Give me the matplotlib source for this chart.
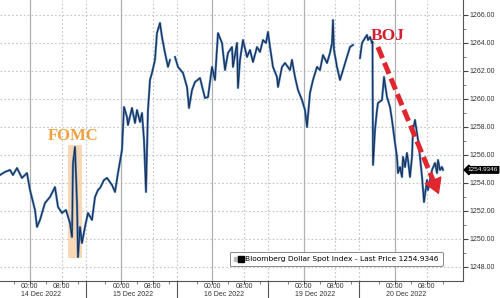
import matplotlib
matplotlib.use("Agg")
import matplotlib.pyplot as plt
import matplotlib.transforms as mtransforms
from matplotlib.patches import Rectangle
from matplotlib.lines import Line2D
from matplotlib.legend_handler import HandlerTuple
import numpy as np

# Compressed trading-time axis: hours from 14 Dec 00:00, each session = 23 h
day_labels = ["14 Dec 2022", "15 Dec 2022", "16 Dec 2022", "19 Dec 2022", "20 Dec 2022"]
day_midnight = [0, 23, 46, 69, 92]
day_breaks = [14, 37, 60, 83]

hours = [-7.56, -6.3, -5.04, -4.29, -3.28, -2.02, -0.76, 0.0, 1.26, 1.76, 2.52, 3.78, 5.04, 6.3,
         7.06, 8.07, 9.07, 10.08, 10.59, 10.84, 11.34, 11.85, 12.1, 12.6, 13.11, 13.86, 14.62,
         15.63, 16.39, 17.14, 17.65, 18.65, 19.41, 20.67, 21.43, 22.18, 23.19, 23.7, 24.45, 24.7,
         25.71, 26.47, 26.97, 27.73, 28.23, 28.74, 29.24, 29.74, 30.25, 30.75, 31.51, 32.01,
         32.77, 33.27, 34.03, 34.79, 35.29, 35.9,
         36.55, 37.31, 38.57, 39.58, 40.08, 40.84, 41.59, 42.85, 44.11, 44.87, 45.88, 46.63,
         47.39, 48.4, 49.16, 49.91, 50.92, 51.17, 52.18, 52.43, 52.94, 53.69, 54.7, 55.46, 56.21,
         57.22, 57.98, 58.73, 59.49, 59.99, 60.5, 61.25, 62.26, 62.52, 63.52, 64.28, 65.54, 66.04,
         66.8, 67.56, 68.56, 69.32, 69.83, 70.58, 71.34, 72.35, 73.1, 73.86, 74.87, 75.62, 76.13,
         76.38, 76.63, 77.39, 78.14, 78.9, 79.91, 80.66, 81.42, 82.3,
         83.19, 83.69, 84.45, 84.95, 85.2, 85.71, 86.21, 86.34, 86.46, 86.97, 87.47, 87.72, 88.73,
         89.24, 89.99, 90.75, 91.25, 92.01, 92.51, 92.76, 93.27, 93.77, 94.03, 94.53, 95.03, 95.29,
         95.79, 96.29, 96.55, 97.05, 97.56, 97.81, 98.31, 98.82, 99.07, 99.32, 100.08, 100.33,
         101.34, 102.09, 102.6, 102.85, 103.35, 103.86, 104.11]
price = [1254.57, 1254.79, 1254.93, 1254.57, 1255.07, 1254.36, 1254.71, 1253.5, 1252.07, 1250.86,
         1251.36, 1252.57, 1253.0, 1253.71, 1252.29, 1251.86, 1252.07, 1251.14, 1250.14, 1255.43,
         1256.57, 1252.57, 1248.71, 1250.86, 1249.71, 1250.86, 1251.86, 1251.36, 1253.0, 1253.5,
         1253.64, 1254.21, 1254.36, 1253.86, 1253.36, 1254.71, 1256.36, 1259.43, 1258.71, 1258.14,
         1259.36, 1258.29, 1259.21, 1258.36, 1259.0, 1257.07, 1253.36, 1259.21, 1261.36, 1261.86,
         1262.79, 1264.71, 1265.43, 1264.43, 1263.29, 1262.29, 1262.79, np.nan,
         1263.0, 1262.29, 1261.86, 1260.86, 1259.36, 1260.64, 1261.21, 1261.5, 1260.07, 1260.14,
         1262.29, 1261.36, 1264.71, 1264.0, 1262.07, 1263.29, 1263.71, 1262.29, 1264.0, 1260.79,
         1262.79, 1264.21, 1263.0, 1263.5, 1262.64, 1263.71, 1263.36, 1264.21, 1264.0, 1264.79,
         1263.71, 1262.29, 1261.57, 1260.86, 1262.29, 1262.57, 1262.07, 1262.79, 1261.57, 1260.64,
         1259.93, 1259.21, 1258.0, 1260.43, 1261.36, 1262.29, 1262.07, 1263.14, 1262.57, 1263.29,
         1264.0, 1265.64, 1263.5, 1262.29, 1261.36, 1262.07, 1263.0, 1263.71, 1263.86, np.nan,
         1262.93, 1264.0, 1264.36, 1264.57, 1264.21, 1264.43, 1264.0, 1264.1, 1255.29, 1257.79,
         1259.21, 1259.71, 1259.93, 1261.57, 1260.14, 1259.43, 1258.5, 1256.86, 1255.86, 1254.71,
         1255.14, 1254.43, 1255.86, 1255.14, 1256.14, 1255.64, 1254.43, 1255.86, 1257.79, 1258.5,
         1257.57, 1257.07, 1255.86, 1254.43, 1253.5, 1252.64, 1254.21, 1253.5, 1254.93, 1255.43,
         1254.71, 1255.64, 1254.93, 1255.14, 1254.9346]
last_price = 1254.9346
y_ticks = [1248, 1250, 1252, 1254, 1256, 1258, 1260, 1262, 1264, 1266]

fig = plt.figure(figsize=(5, 2.98), dpi=100)
ax = fig.add_axes([0, 17 / 298, 463 / 500, 281 / 298])
ax.set_xlim(-7.56, 109.15)
ax.set_ylim(1247.0, 1267.07)

tick_font = dict(family="Liberation Sans", size=5)
grid_col = "#c4c4c4"

# grids
for y in y_ticks:
    ax.axhline(y, color=grid_col, ls=(0, (1.5, 2)), lw=0.8, zorder=0)
for m in day_midnight:
    ax.axvline(m, color="#b0b0b0", lw=0.9, zorder=0)
    ax.axvline(m + 8, color=grid_col, ls=(0, (1.5, 2)), lw=0.8, zorder=0)
for b in day_breaks:
    ax.axvline(b, color=grid_col, ls=(0, (1.5, 2)), lw=0.8, zorder=0)

# FOMC shaded box
ax.add_patch(Rectangle((9.58, 1248.64), 13.1 - 9.58, 1256.71 - 1248.64,
                       facecolor="#f7cfa2", alpha=0.8, edgecolor="none", zorder=1))

# series
ax.plot(hours, price, color="#3d74bd", lw=1.6, zorder=3)
ax.plot(hours, price, color="#111111", lw=0.55, alpha=0.85, zorder=4)

# annotations
ax.text(10.84, 1257.36, "FOMC", color="#f0a040", fontsize=12, fontweight="bold",
        family="Liberation Serif", ha="center", va="center", zorder=5)
red = "#e0262e"
ax.text(90.24, 1264.5, "BOJ", color="#d22030", fontsize=12.5, fontweight="bold",
        family="Liberation Serif", ha="center", va="center", zorder=5)
ax.plot([87.7, 101.9], [1263.71, 1254.0], color=red, lw=3.6, ls=(0, (2.4, 1.0)),
        solid_capstyle="butt", dash_capstyle="butt", zorder=6)
ax.annotate("", xy=(103.35, 1253.0), xytext=(101.6, 1254.2),
            arrowprops=dict(arrowstyle="-|>,head_length=1.0,head_width=0.6",
                            fc=red, ec=red, lw=1, mutation_scale=10), zorder=6)

# axes styling
for s in ["left", "top"]:
    ax.spines[s].set_visible(False)
for s in ["right", "bottom"]:
    ax.spines[s].set_color("#555555")
    ax.spines[s].set_linewidth(0.8)

ax.yaxis.tick_right()
ax.set_yticks(y_ticks)
ax.set_yticklabels([f"{v:.2f}" for v in y_ticks], **tick_font, color="#333333")
ax.set_yticks([v + 1 for v in y_ticks[:-1]], minor=True)
ax.tick_params(axis="y", which="major", length=3.6, width=0.8, color="#444444", pad=1)
ax.tick_params(axis="y", which="minor", length=2, width=0.6, color="#666666")

xt = []
xl = []
for m in day_midnight:
    xt += [m, m + 8]
    xl += ["00:00", "08:00"]
ax.set_xticks(xt)
ax.set_xticklabels(xl, **tick_font, color="#333333")
minor_x = []
for m in day_midnight:
    minor_x += [m - 4, m + 4, m + 12]
ax.set_xticks([v for v in minor_x if -7.5 < v < 109], minor=True)
ax.tick_params(axis="x", which="major", length=2.0, width=0.7, color="#444444", pad=-0.3)
ax.tick_params(axis="x", which="minor", length=1.8, width=0.6, color="#666666")

trans = mtransforms.blended_transform_factory(ax.transData, ax.transAxes)
for m, lab in zip(day_midnight, day_labels):
    ax.text(m - 2.15, -0.049, lab, transform=trans, ha="left", va="center",
            **tick_font, color="#333333")
for b in day_breaks:
    ax.plot([b, b], [0, -0.07], transform=trans, color="#555555", lw=0.8, clip_on=False)

# last price tag
ytrans = mtransforms.blended_transform_factory(ax.transAxes, ax.transData)
ax.text(1.01, last_price, "1254.9346", transform=ytrans, ha="left", va="center",
        family="Liberation Sans", size=4.6, color="white",
        bbox=dict(boxstyle="larrow,pad=0.12", fc="black", ec="black"), clip_on=False)

# legend
h1 = Line2D([], [], marker="s", color="#bbbbbb", ls="none", markersize=2.5)
h2 = Line2D([], [], marker="s", color="black", ls="none", markersize=4)
leg = ax.legend([(h1, h2)], ["Bloomberg Dollar Spot Index - Last Price 1254.9346"],
                handler_map={tuple: HandlerTuple(ndivide=None, pad=0.1)},
                loc="center", bbox_to_anchor=(0.726, 0.078),
                prop=dict(family="DejaVu Sans", size=5.4),
                frameon=True, fancybox=True, handlelength=1.2, handletextpad=0.3,
                borderpad=0.55, framealpha=1)
leg.get_frame().set_edgecolor("#888888")
leg.get_frame().set_linewidth(0.7)
leg.set_zorder(7)

fig.savefig("out.png", dpi=100)
